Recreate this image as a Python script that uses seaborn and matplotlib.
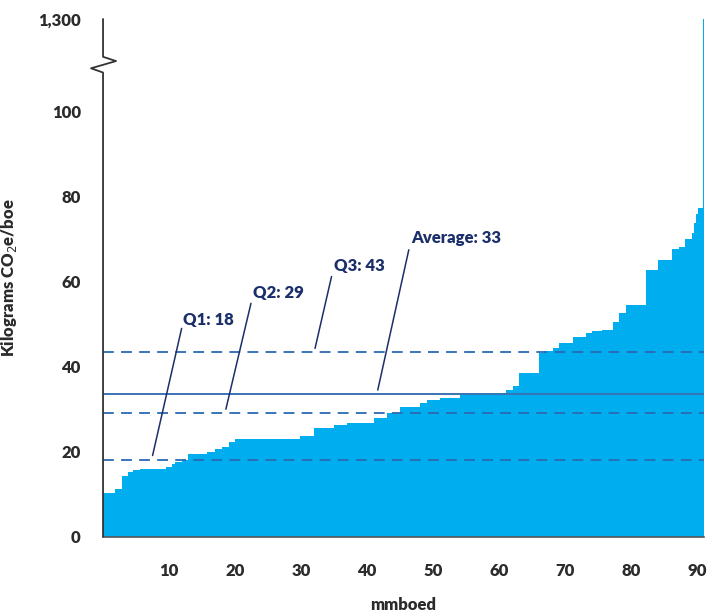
import numpy as np
import pandas as pd
import matplotlib
matplotlib.use('Agg')
import matplotlib.pyplot as plt
import matplotlib.transforms as mtransforms
import seaborn as sns

# Data: each field's left edge on the cumulative production axis (mmboed) and its intensity
field_start = [0, 1.8, 2.8, 3.8, 4.5, 5.6, 9.6, 10.4, 10.9, 11.9, 12.8, 15.7, 17.0, 18.0,
               19.0, 20.0, 29.8, 31.9, 34.9, 36.9, 41.0, 43.0, 45.0, 48.0, 49.0, 51.0,
               54.0, 57.0, 61.0, 62.1, 63.0, 66.0, 66.8, 68.1, 69.1, 71.1, 73.1, 74.1,
               75.5, 77.2, 78.2, 79.2, 82.2, 84.1, 86.2, 87.2, 88.1, 89.2, 89.5, 89.8, 90.1, 90.8]
field_end = 91.0
intensity = [10.4, 11.2, 14.4, 15.3, 15.7, 15.9, 16.5, 17.0, 17.5, 18.0, 19.4, 20.0, 20.6, 21.2,
             22.2, 22.9, 23.7, 25.5, 26.2, 26.7, 27.9, 29.0, 30.6, 31.4, 32.2, 32.7,
             33.5, 33.9, 34.5, 35.5, 38.4, 43.3, 43.6, 44.5, 45.5, 46.9, 47.9, 48.3,
             48.6, 50.5, 52.6, 54.4, 62.8, 65.1, 67.8, 68.2, 70.0, 71.5, 73.8, 76.0, 77.3, 1300]

stat_names = ['Q1', 'Q2', 'Q3', 'Average']
stat_values = [18.0, 29.0, 43.4, 33.6]
stat_labels = ['Q1: 18', 'Q2: 29', 'Q3: 43', 'Average: 33']

y_ticks = [0, 20, 40, 60, 80, 100]
x_ticks = [10, 20, 30, 40, 50, 60, 70, 80, 90]

# y axis break: everything above 110 is squeezed into the top strip
BREAK = 110
TOP = 121.8
TOP_VALUE = 1300


def squash(v):
    v = np.asarray(v, dtype=float)
    return np.where(v <= BREAK, v, BREAK + (v - BREAK) / (TOP_VALUE - BREAK) * (TOP - BREAK))


df = pd.DataFrame({'start': field_start, 'intensity': intensity})
df['plot_y'] = squash(df['intensity'])
edges = np.append(df['start'].values, field_end)
heights = np.append(df['plot_y'].values, df['plot_y'].values[-1])

sns.set_style('white')
plt.rcParams['font.family'] = ['Lato', 'DejaVu Sans']

fill_color = '#00aeef'
navy = '#1b2f6b'
line_blue = '#2b6ab3'
text_gray = '#2b2b2b'
WEIGHT = 'heavy'

fig = plt.figure(figsize=(7.18, 6.16), dpi=100)
ax = fig.add_axes([0.1435, 0.1287, 0.8370, 0.8405])

ax.fill_between(edges, heights, step='post', color=fill_color, linewidth=0, zorder=1)
sns.lineplot(x=edges, y=heights, drawstyle='steps-post', color=fill_color, linewidth=0.6,
             ax=ax, zorder=1)

# quartile and average lines
for name, val in zip(stat_names, stat_values):
    if name == 'Average':
        ax.axhline(val, color='#3a74b4', linewidth=1.4, zorder=3)
    else:
        ax.axhline(val, color=line_blue, linewidth=1.3, linestyle=(0, (6, 4)), zorder=3)

# annotations with leader lines
label_pos = [(12.1, 51.0), (22.7, 57.4), (35.0, 63.8), (46.6, 70.2)]
leader_top = [(11.9, 49.0), (22.4, 54.9), (34.6, 61.2), (46.3, 67.5)]
leader_bottom = [(7.5, 19.1), (18.6, 30.0), (32.1, 44.3), (41.6, 34.5)]
for lab, (tx, ty), (x0, y0), (x1, y1) in zip(stat_labels, label_pos, leader_top, leader_bottom):
    ax.text(tx, ty, lab, color=navy, fontsize=12, fontweight=WEIGHT, ha='left', va='center')
    ax.plot([x0, x1], [y0, y1], color=navy, linewidth=1.1, zorder=4)

ax.set_xlim(0, field_end)
ax.set_ylim(0, TOP)
ax.set_xticks(x_ticks)
ax.set_xticklabels([str(t) for t in x_ticks])
ax.set_yticks(y_ticks + [TOP])
ax.set_yticklabels([str(t) for t in y_ticks] + ['1,300'])
ax.set_yticks([TOP], minor=True)

for s in ['top', 'right', 'left']:
    ax.spines[s].set_visible(False)
ax.spines['bottom'].set_color('#555555')
ax.spines['bottom'].set_linewidth(1.2)

ax.tick_params(axis='x', direction='out', length=10, width=1.2, color='#444444',
               pad=9, labelsize=12, labelcolor=text_gray)
ax.tick_params(axis='y', which='major', direction='out', length=10, width=1.2,
               color='#444444', pad=6, labelsize=12, labelcolor=text_gray)
ax.tick_params(axis='y', which='minor', direction='in', length=10, width=1.2, color='#444444')
for lab in ax.get_xticklabels() + ax.get_yticklabels():
    lab.set_fontweight(WEIGHT)

# left spine drawn by hand with the break zigzag
trans = mtransforms.blended_transform_factory(ax.transAxes, ax.transData)
w = ax.get_position().width * fig.get_figwidth() * fig.dpi
bx = [0, 0, 13 / w, -12 / w, 0, 0]
by = [TOP, 112.9, 111.9, 110.2, 109.2, 0]
ax.plot(bx, by, transform=trans, color='#333333', linewidth=1.3, clip_on=False, zorder=5)

ax.set_xlabel('mmboed', fontsize=12, fontweight=WEIGHT, color=text_gray, labelpad=13)
ax.set_ylabel('Kilograms CO$_2$e/boe', fontsize=12, fontweight=WEIGHT, color=text_gray,
              labelpad=14)
ax.grid(False)

fig.savefig('out.png', dpi=100)
